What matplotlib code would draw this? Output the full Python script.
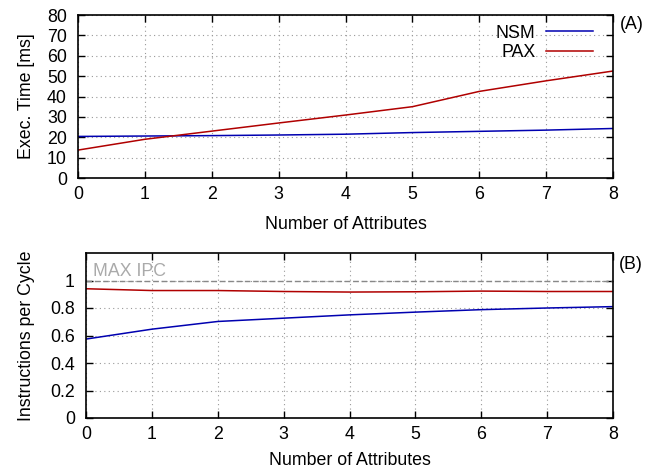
import matplotlib
matplotlib.use("Agg")
import matplotlib.pyplot as plt

plt.rcParams['font.family'] = ['Liberation Sans', 'DejaVu Sans']
plt.rcParams['font.size'] = 12.8

attrs = [0, 1, 2, 3, 4, 5, 6, 7, 8]
nsm_time = [20.4, 20.6, 20.8, 21.1, 21.5, 22.3, 22.9, 23.5, 24.3]
pax_time = [13.7, 19.0, 23.0, 27.0, 30.9, 35.0, 42.5, 47.7, 52.5]
nsm_ipc = [0.574, 0.646, 0.702, 0.726, 0.75, 0.77, 0.788, 0.80, 0.81]
pax_ipc = [0.94, 0.927, 0.927, 0.92, 0.916, 0.918, 0.923, 0.92, 0.92]
max_ipc = 1.0

W, H = 652, 474
fig = plt.figure(figsize=(W/100, H/100), dpi=100)

def ax_rect(l, t, r, b):
    return [l/W, 1 - b/H, (r-l)/W, (b-t)/H]

ax1 = fig.add_axes(ax_rect(78, 15, 613, 178))
ax2 = fig.add_axes(ax_rect(86, 253, 613, 418))

blue = '#0000b0'
red = '#b00000'

for ax in (ax1, ax2):
    ax.set_xlim(0, 8)
    ax.set_xticks(attrs)
    ax.grid(True, linestyle=(0, (1, 3)), color='#999999', linewidth=0.8)
    ax.tick_params(direction='in', top=True, right=True, length=5, width=1, pad=6)
    ax.tick_params(axis='y', pad=8)
    for s in ax.spines.values():
        s.set_linewidth(1.2)

ax1.set_xlabel('Number of Attributes', labelpad=9)
ax2.set_xlabel('Number of Attributes', labelpad=6)

ax1.plot(attrs, nsm_time, color=blue, lw=1.1, label='NSM')
ax1.plot(attrs, pax_time, color=red, lw=1.1, label='PAX')
ax1.set_ylim(0, 80)
ax1.set_yticks(range(0, 81, 10))
ax1.set_ylabel('Exec. Time [ms]', labelpad=9)
ax1.legend(loc='upper right', frameon=False, markerfirst=False, handlelength=2.6,
           borderaxespad=0.0, labelspacing=0.15, handletextpad=0.6, bbox_to_anchor=(0.975, 0.985))
ax1.text(1.012, 0.94, '(A)', transform=ax1.transAxes, ha='left', va='center')

ax2.axhline(max_ipc, color='#888888', lw=1, linestyle=(0, (4, 2)))
ax2.plot(attrs, pax_ipc, color=red, lw=1.1)
ax2.plot(attrs, nsm_ipc, color=blue, lw=1.1)
ax2.set_ylim(0, 1.2)
ax2.set_yticks([0, 0.2, 0.4, 0.6, 0.8, 1])
ax2.set_yticklabels(['0', '0.2', '0.4', '0.6', '0.8', '1'])
ax2.set_ylabel('Instructions per Cycle', labelpad=11)
ax2.text(0.1, 1.065, 'MAX IPC', color='#aaaaaa', ha='left', va='center')
ax2.text(1.012, 0.93, '(B)', transform=ax2.transAxes, ha='left', va='center')

fig.savefig('out.png', dpi=100)
